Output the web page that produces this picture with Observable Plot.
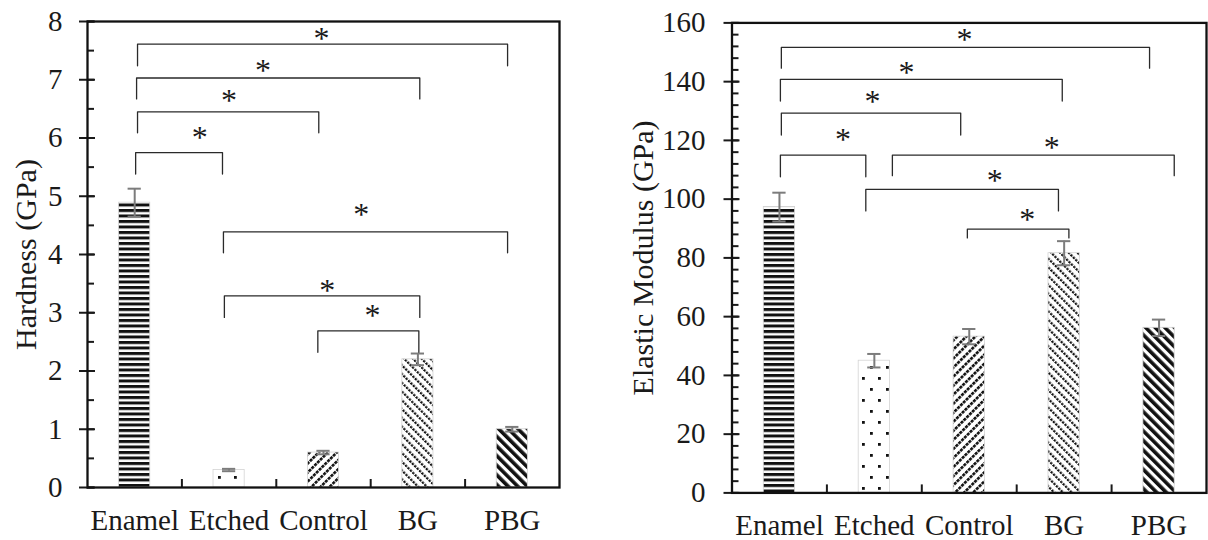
<!DOCTYPE html>
<html>
<head>
<meta charset="utf-8">
<script src="https://cdn.jsdelivr.net/npm/d3@7"></script>
<script src="https://cdn.jsdelivr.net/npm/@observablehq/plot@0.6"></script>
<style>
  html, body { margin: 0; padding: 0; background: #fff; }
  #wrap { display: flex; width: 1208px; height: 540px; }
  #wrap > div { width: 604px; height: 540px; }
</style>
</head>
<body>
<svg width="0" height="0" style="position:absolute">
  <defs>
    <pattern id="p-enamel" patternUnits="userSpaceOnUse" width="10" height="5.5">
      <rect x="0" y="0" width="10" height="3" fill="#111"/>
    </pattern>
    <pattern id="p-etched" patternUnits="userSpaceOnUse" width="16" height="22">
      <rect x="2" y="3" width="2.8" height="2.8" fill="#111"/>
      <rect x="10" y="14" width="2.8" height="2.8" fill="#111"/>
    </pattern>
    <pattern id="p-control" patternUnits="userSpaceOnUse" width="6.4" height="4" patternTransform="rotate(45)">
      <rect x="0" y="0" width="2.6" height="3.1" fill="#111"/>
    </pattern>
    <pattern id="p-bg" patternUnits="userSpaceOnUse" width="6.2" height="3.4" patternTransform="rotate(-45)">
      <rect x="0" y="0" width="2.2" height="2.3" fill="#111"/>
    </pattern>
    <pattern id="p-pbg" patternUnits="userSpaceOnUse" width="6.8" height="10" patternTransform="rotate(-45)">
      <rect x="0" y="0" width="3.6" height="10" fill="#111"/>
    </pattern>
  </defs>
</svg>
<div id="wrap"><div id="left"></div><div id="right"></div></div>
<script>
// ---------- data ----------
const categories = ["Enamel", "Etched", "Control", "BG", "PBG"];

const hardness    = [4.89, 0.30, 0.60, 2.20, 1.00];
const hardnessErr = [0.24, 0.02, 0.03, 0.10, 0.04];
const hardnessTicks = [0, 1, 2, 3, 4, 5, 6, 7, 8];

const modulus    = [97.3, 45.0, 53.2, 81.6, 56.2];
const modulusErr = [4.9, 2.3, 2.6, 4.1, 2.8];
const modulusTicks = [0, 20, 40, 60, 80, 100, 120, 140, 160];

// significance brackets (x in category-index units, y in data units)
const hBracketX1  = [0.03, 0.02, 0.03, 0.01, 0.94, 0.95, 1.94];
const hBracketX2  = [3.95, 3.02, 1.95, 0.93, 3.95, 3.02, 3.01];
const hBracketY   = [7.61, 7.03, 6.45, 5.75, 4.39, 3.29, 2.69];
const hBracketLeg = [7.24, 6.67, 6.09, 5.38, 4.03, 2.92, 2.32];
const hStarX      = [1.98, 1.36, 1.00, 0.69, 2.40, 2.04, 2.52];
const hStarY      = [7.79, 7.24, 6.73, 6.09, 4.76, 3.47, 3.03];

const mBracketX1  = [0.02, 0.01, 0.02, 0.01, 1.19, 0.91, 1.98];
const mBracketX2  = [3.90, 2.98, 1.91, 0.91, 4.16, 2.94, 3.05];
const mBracketY   = [151.7, 140.8, 129.3, 115.0, 115.0, 103.3, 89.8];
const mBracketLeg = [144.6, 133.4, 121.8, 107.6, 108.0, 96.0, 86.8];
const mStarX      = [1.95, 1.34, 0.98, 0.67, 2.87, 2.27, 2.61];
const mStarY      = [156.0, 144.6, 134.9, 122.0, 119.3, 108.0, 94.8];

// ---------- drawing ----------
const patternOf = {Enamel: "p-enamel", Etched: "p-etched", Control: "p-control", BG: "p-bg", PBG: "p-pbg"};
const FONT = "'Liberation Serif', 'Times New Roman', serif";

function panel(o) {
  const rows = categories.map((c, i) => ({i, c, v: o.values[i], e: o.errs[i], fill: `url(#${patternOf[c]})`}));
  const segs = o.bx1.flatMap((_, k) => [
    {k, x: o.bx1[k], y: o.leg[k]},
    {k, x: o.bx1[k], y: o.by[k]},
    {k, x: o.bx2[k], y: o.by[k]},
    {k, x: o.bx2[k], y: o.leg[k]}
  ]);
  const stars = o.sx.map((x, k) => ({x, y: o.sy[k]}));
  const top = o.ticks[o.ticks.length - 1];
  const minor = d3.range(0, top + 1e-9, o.minorStep);
  return Plot.plot({
    width: 604, height: 540,
    marginLeft: o.ml, marginRight: o.mr, marginTop: o.mt, marginBottom: o.mb,
    x: {type: "linear", domain: [-0.5, 4.5], axis: null},
    y: {domain: [0, top], axis: null},
    color: {type: "identity"},
    style: {fontFamily: FONT, color: "#1a1a1a", background: "#fff", overflow: "visible"},
    marks: [
      Plot.rect(rows, {x1: d => d.i - 0.165, x2: d => d.i + 0.165, y1: 0, y2: "v", fill: "fill", stroke: "#d4d4d4", strokeWidth: 0.8}),
      Plot.ruleX(rows, {x: "i", y1: d => d.v - d.e, y2: d => d.v + d.e, stroke: "#7c7c7c", strokeWidth: 2}),
      Plot.ruleY(rows, {y: d => d.v + d.e, x1: d => d.i - 0.07, x2: d => d.i + 0.07, stroke: "#7c7c7c", strokeWidth: 2}),
      Plot.ruleY(rows, {y: d => d.v - d.e, x1: d => d.i - 0.07, x2: d => d.i + 0.07, stroke: "#7c7c7c", strokeWidth: 2}),
      Plot.line(segs, {x: "x", y: "y", z: "k", stroke: "#2a2a2a", strokeWidth: 1.3, strokeLinejoin: "round"}),
      Plot.text(stars, {x: "x", y: "y", text: () => "*", fontSize: 32, dy: 5, fill: "#1a1a1a"}),
      // y axis: major ticks crossing the axis, minor ticks inside
      Plot.axisY({ticks: o.ticks, tickSize: 16, dx: 8, tickFormat: () => "", strokeWidth: 2, label: null}),
      Plot.axisY({ticks: minor, tickSize: 7, dx: 7, tickFormat: () => "", strokeWidth: 2, label: null}),
      Plot.axisY({ticks: o.ticks, tickSize: 0, tickPadding: o.tickPad, fontSize: 29, label: null}),
      // x axis: category labels, separators inside
      Plot.axisX({ticks: [0, 1, 2, 3, 4], tickSize: 0, tickPadding: 22, tickFormat: i => categories[i], fontSize: 29, label: null}),
      Plot.axisX({ticks: [0.5, 1.5, 2.5, 3.5], tickSize: 8, dy: -8, tickFormat: () => "", strokeWidth: 2, label: null}),
      Plot.frame({stroke: "#111", strokeWidth: 2.3}),
      Plot.text([o.label], {frameAnchor: "left", textAnchor: "middle", lineAnchor: "middle", rotate: -90, dx: o.labelDx, fontSize: 30, text: d => d, fill: "#1a1a1a"})
    ]
  });
}

document.getElementById("left").append(panel({
  values: hardness, errs: hardnessErr, ticks: hardnessTicks, minorStep: 0.5,
  bx1: hBracketX1, bx2: hBracketX2, by: hBracketY, leg: hBracketLeg, sx: hStarX, sy: hStarY,
  ml: 87, mr: 45, mt: 21, mb: 53, tickPad: 25, labelDx: -61.5,
  label: "Hardness (GPa)"
}));

document.getElementById("right").append(panel({
  values: modulus, errs: modulusErr, ticks: modulusTicks, minorStep: 4,
  bx1: mBracketX1, bx2: mBracketX2, by: mBracketY, leg: mBracketLeg, sx: mStarX, sy: mStarY,
  ml: 127.5, mr: 2, mt: 22.4, mb: 47.6, tickPad: 26.5, labelDx: -89,
  label: "Elastic Modulus (GPa)"
}));
</script>
</body>
</html>
